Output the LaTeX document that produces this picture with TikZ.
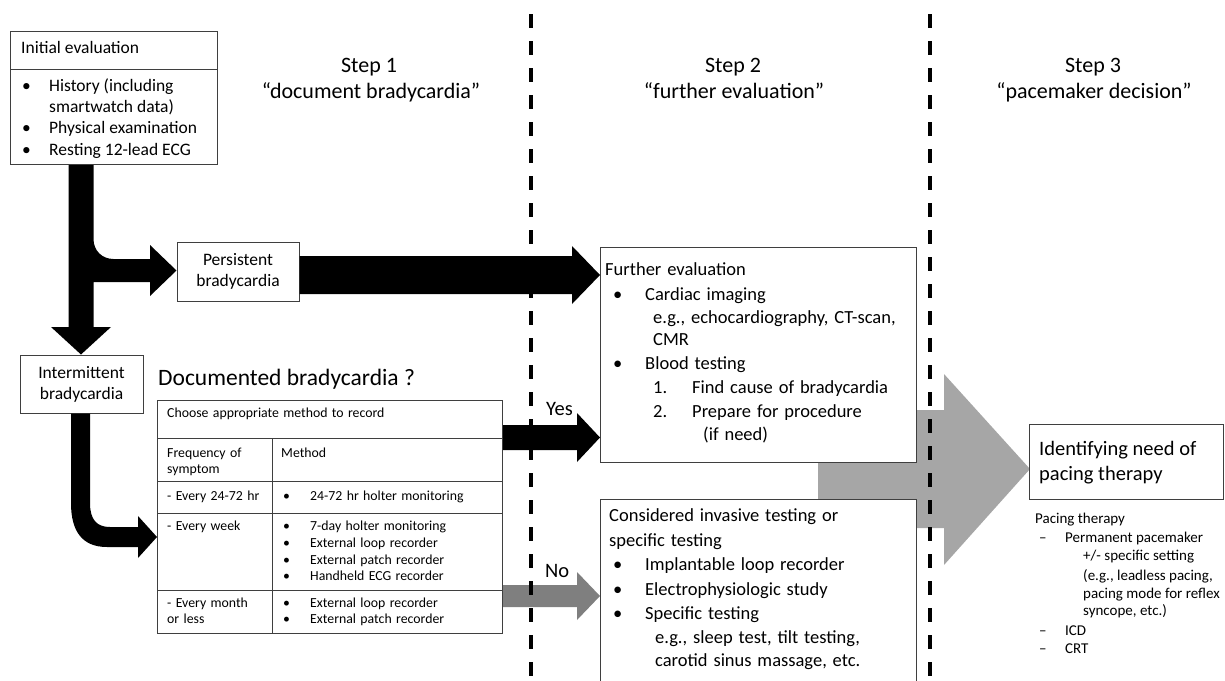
\documentclass[tikz,border=0pt]{standalone}
\usepackage{fontspec}
\setmainfont{Carlito}
\newfontfamily\wideFont{Carlito}[WordSpace=1.8]
\newfontfamily\tabFont{Carlito}[WordSpace=1.4]
\usetikzlibrary{calc}
\newcommand\fsMain{\fontsize{17.5}{21}\selectfont}
\newcommand\fsBox{\wideFont\fontsize{18.5}{22}\selectfont}
\newcommand\fsStep{\fontsize{22}{26}\selectfont}
\newcommand\fsId{\fontsize{20.5}{25}\selectfont}
\newcommand\fsBig{\fontsize{23.5}{28}\selectfont}
\newcommand\fsTab{\tabFont\fontsize{13.8}{16.5}\selectfont}
\newcommand\fsSmall{\fontsize{15}{18}\selectfont}
\definecolor{bordercol}{HTML}{3F3F3F}
\definecolor{biggray}{HTML}{A6A6A6}
\definecolor{nogray}{HTML}{7F7F7F}
\begin{document}
\begin{tikzpicture}[x=1pt,y=-1pt,
  box/.style={draw=bordercol, line width=1pt, fill=white, rectangle, inner sep=0pt, anchor=north west},
  cbox/.style={draw=bordercol, line width=1pt, fill=white, rectangle, inner sep=0pt, anchor=center, align=center, font=\fsMain},
  boxline/.style={draw=bordercol, line width=1pt},
  t/.style={inner sep=0pt, anchor=base west},
  tm/.style={t, font=\fsMain},
  tb/.style={t, font=\fsBox},
  tt/.style={t, font=\fsTab},
  ts/.style={t, font=\fsSmall},
  stepl/.style={inner sep=0pt, anchor=base, font=\fsStep},
  divider/.style={line width=4pt, dash pattern=on 14pt off 13pt},
]
\useasboundingbox (0,0) rectangle (1225,680);

% big gray arrow (behind boxes)
\fill[biggray] (818,410) -- (944,410) -- (944,374) -- (1030,469) -- (944,565) -- (944,528) -- (818,528) -- cycle;

% boxes
\node[box, minimum width=207pt, minimum height=133pt] (init) at (10,31) {};
\node[cbox, minimum width=122pt, minimum height=59pt] (pers) at (238,271.5) {Persistent\\bradycardia};
\node[cbox, minimum width=123pt, minimum height=58pt] (inter) at (81.5,384) {Intermittent\\bradycardia};
\node[box, minimum width=345pt, minimum height=233pt] (tab) at (157,400) {};
\node[box, minimum width=316pt, minimum height=215pt] (fe) at (600,247) {};
\node[box, minimum width=316pt, minimum height=200pt] (cons) at (600,499) {};
\node[box, minimum width=194pt, minimum height=75pt] (ident) at (1029,424) {};

% initial evaluation box
\draw[boxline] (init.west |- 0,69) -- (init.east |- 0,69);
\node[tm] (i0) at (21,53) {Initial evaluation};
\node[tm] (i1b) at (22,91) {•};
\node[tm] (i1) at (49,91) {History (including};
\node[tm] (i1c) at (49,112) {smartwatch data)};
\node[tm] (i2b) at (22,133) {•};
\node[tm] (i2) at (49,133) {Physical examination};
\node[tm] (i3b) at (22,155) {•};
\node[tm] (i3) at (49,155) {Resting 12-lead ECG};

% arrow from initial evaluation: down to intermittent, branch to persistent
\fill[black] (init.south -| 68.5,0) -- (68.5,327) -- (51,327) -- (inter.north -| 81,0) -- (111,327) -- (93.5,327)
  -- (93.5,282) -- (150,282) -- (150,296) -- (pers.west |- 0,270.5) -- (150,245) -- (150,259) -- (113.5,259)
  .. controls (102,259) and (93.5,250.5) .. (93.5,239) -- (init.south -| 93.5,0) -- cycle;

% arrow from intermittent to table
\fill[black] (inter.south -| 71,0) -- (71,503) .. controls (71,531) and (82,547) .. (107,547) -- (138,547) -- (138,558)
  -- (tab.west |- 0,537) -- (138,516) -- (138,527) -- (110,527) .. controls (97,527) and (90,520) .. (90,503)
  -- (inter.south -| 90,0) -- cycle;

% persistent -> further evaluation
\fill[black] (pers.east |- 0,256) -- (572,256) -- (572,246) -- (fe.west |- 0,275) -- (572,304) -- (572,294) -- (pers.east |- 0,294) -- cycle;

% yes arrow
\fill[black] (tab.east |- 0,425) -- (577,425) -- (577,413) -- (fe.west |- 0,437.5) -- (577,462) -- (577,450) -- (tab.east |- 0,450) -- cycle;
\node[t, font=\fsId] (yes) at (546,415) {Yes};

% no arrow
\fill[nogray] (tab.east |- 0,585) -- (577,585) -- (577,572) -- (cons.west |- 0,596) -- (577,620) -- (577,607) -- (tab.east |- 0,607) -- cycle;
\node[t, font=\fsId] (no) at (545,577) {No};

% step labels
\node[stepl] (s1a) at (369,72) {Step 1};
\node[stepl] (s1b) at (371,98) {“document bradycardia”};
\node[stepl] (s2a) at (733,72) {Step 2};
\node[stepl] (s2b) at (734,98) {“further evaluation”};
\node[stepl] (s3a) at (1093,72) {Step 3};
\node[stepl] (s3b) at (1094,98) {“pacemaker decision”};

% documented bradycardia
\node[t, font=\fsBig] (doc) at (158,385) {Documented bradycardia ?};

% table
\draw[boxline] (tab.west |- 0,438) -- (tab.east |- 0,438);
\draw[boxline] (tab.west |- 0,481) -- (tab.east |- 0,481);
\draw[boxline] (tab.west |- 0,513) -- (tab.east |- 0,513);
\draw[boxline] (tab.west |- 0,590) -- (tab.east |- 0,590);
\draw[boxline] (272,438) -- (tab.south -| 272,0);
\node[tt] (c0) at (167,417) {Choose appropriate method to record};
\node[tt] (c1) at (167,457) {Frequency of};
\node[tt] (c1b) at (167,473) {symptom};
\node[tt] (c2) at (281,457) {Method};
\node[tt] (r1) at (167,500) {- Every 24-72 hr};
\node[tt] (r1b) at (283,500) {•};
\node[tt] (r1t) at (310,500) {24-72 hr holter monitoring};
\node[tt] (r2) at (167,530) {- Every week};
\node[tt] (r2b1) at (283,530) {•};
\node[tt] (r2t1) at (310,530) {7-day holter monitoring};
\node[tt] (r2b2) at (283,547) {•};
\node[tt] (r2t2) at (310,547) {External loop recorder};
\node[tt] (r2b3) at (283,564) {•};
\node[tt] (r2t3) at (310,564) {External patch recorder};
\node[tt] (r2b4) at (283,580) {•};
\node[tt] (r2t4) at (310,580) {Handheld ECG recorder};
\node[tt] (r3) at (167,607) {- Every month};
\node[tt] (r3c) at (167,623) {or less};
\node[tt] (r3b1) at (283,607) {•};
\node[tt] (r3t1) at (310,607) {External loop recorder};
\node[tt] (r3b2) at (283,623) {•};
\node[tt] (r3t2) at (310,623) {External patch recorder};

% further evaluation box text
\node[tb] (f0) at (605,275) {Further evaluation};
\node[tb] (f1b) at (613,300) {•};
\node[tb] (f1) at (645,300) {Cardiac imaging};
\node[tb] (f1c) at (653,323) {e.g., echocardiography, CT-scan,};
\node[tb] (f1d) at (653,345) {CMR};
\node[tb] (f2b) at (613,369) {•};
\node[tb] (f2) at (645,369) {Blood testing};
\node[tb] (f3n) at (653,393) {1.};
\node[tb] (f3) at (692,393) {Find cause of bradycardia};
\node[tb] (f4n) at (653,417) {2.};
\node[tb] (f4) at (692,417) {Prepare for procedure};
\node[tb] (f4c) at (703,440) {(if need)};

% considered box text
\node[tb] (k0) at (609,521) {Considered invasive testing or};
\node[tb] (k0b) at (609,546) {specific testing};
\node[tb] (k1b) at (613,570) {•};
\node[tb] (k1) at (645,570) {Implantable loop recorder};
\node[tb] (k2b) at (613,595) {•};
\node[tb] (k2) at (645,595) {Electrophysiologic study};
\node[tb] (k3b) at (613,619) {•};
\node[tb] (k3) at (645,619) {Specific testing};
\node[tb] (k4) at (655,643) {e.g., sleep test, tilt testing,};
\node[tb] (k5) at (655,666) {carotid sinus massage, etc.};

% identifying box
\node[t, font=\fsId] (id1) at (1039,455) {Identifying need of};
\node[t, font=\fsId] (id2) at (1039,480) {pacing therapy};

% pacing therapy list
\node[ts] (p0) at (1035,523) {Pacing therapy};
\node[ts] (p1d) at (1039,542) {–};
\node[ts] (p1) at (1065,542) {Permanent pacemaker};
\node[ts] (p2) at (1083,560) {+/- specific setting};
\node[ts] (p3) at (1083,580) {(e.g., leadless pacing,};
\node[ts] (p4) at (1083,598) {pacing mode for reflex};
\node[ts] (p5) at (1083,615) {syncope, etc.)};
\node[ts] (p6d) at (1039,635) {–};
\node[ts] (p6) at (1065,635) {ICD};
\node[ts] (p7d) at (1039,653) {–};
\node[ts] (p7) at (1065,653) {CRT};

% dashed step dividers
\coordinate (d1t) at (531,14);
\coordinate (d1b) at (531,680);
\coordinate (d2t) at (930,14);
\coordinate (d2b) at (930,680);
\draw[divider] (d1t) -- (d1b);
\draw[divider] (d2t) -- (d2b);
\end{tikzpicture}
\end{document}
